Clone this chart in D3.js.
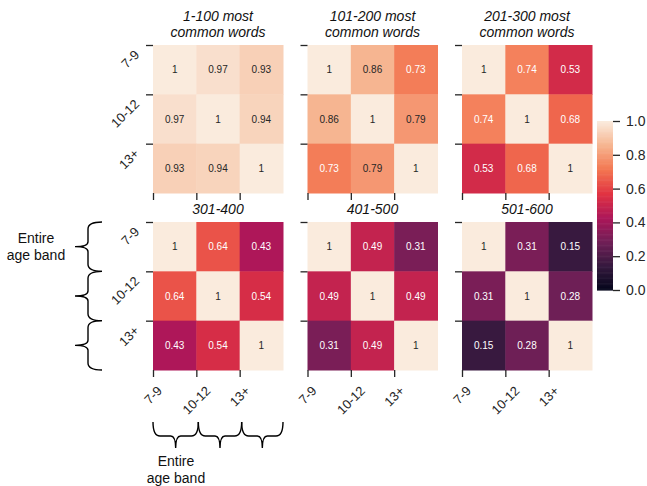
<!DOCTYPE html>
<html>
<head>
<meta charset="utf-8">
<script src="https://cdn.jsdelivr.net/npm/d3@7"></script>
<style>
  html, body { margin: 0; padding: 0; background: #fff; }
  svg { display: block; font-family: "Liberation Sans", Arial, sans-serif; }
</style>
</head>
<body>
<svg id="chart" width="647" height="486"></svg>
<script>
// Age bands shown on both axes of every matrix
const ageBands = ["7-9", "10-12", "13+"];

// Panel titles (word-frequency bands)
const panelTitles = [
  ["1-100 most", "common words"],
  ["101-200 most", "common words"],
  ["201-300 most", "common words"],
  ["301-400"],
  ["401-500"],
  ["501-600"]
];

// Correlation matrices, one per word band (rows/cols follow ageBands)
const words1to100   = [[1, 0.97, 0.93], [0.97, 1, 0.94], [0.93, 0.94, 1]];
const words101to200 = [[1, 0.86, 0.73], [0.86, 1, 0.79], [0.73, 0.79, 1]];
const words201to300 = [[1, 0.74, 0.53], [0.74, 1, 0.68], [0.53, 0.68, 1]];
const words301to400 = [[1, 0.64, 0.43], [0.64, 1, 0.54], [0.43, 0.54, 1]];
const words401to500 = [[1, 0.49, 0.31], [0.49, 1, 0.49], [0.31, 0.49, 1]];
const words501to600 = [[1, 0.31, 0.15], [0.31, 1, 0.28], [0.15, 0.28, 1]];
const matrices = [words1to100, words101to200, words201to300,
                  words301to400, words401to500, words501to600];

// Colour bar ticks
const colorbarTicks = [0, 0.2, 0.4, 0.6, 0.8, 1.0];

// "rocket"-style sequential palette
const rocketStops = ["#03051a", "#35193e", "#701f57", "#ad1759",
                     "#e13342", "#f37651", "#f6b48f", "#faebdd"];
const color = d3.scaleLinear()
  .domain(rocketStops.map((_, i) => i / (rocketStops.length - 1)))
  .range(rocketStops)
  .interpolate(d3.interpolateRgb)
  .clamp(true);

function luminance(c) {
  const rgb = d3.rgb(c);
  const lin = v => { v /= 255; return v <= 0.03928 ? v / 12.92 : Math.pow((v + 0.055) / 1.055, 2.4); };
  return 0.2126 * lin(rgb.r) + 0.7152 * lin(rgb.g) + 0.0722 * lin(rgb.b);
}

const svg = d3.select("#chart");
const ink = "#262626";

// Layout
const panelW = 130, panelH = 148;
const colLefts = [153, 307.5, 462];
const rowTops = [45, 222];

matrices.forEach((m, p) => {
  const row = Math.floor(p / 3), col = p % 3;
  const left = colLefts[col], top = rowTops[row];
  const x = d3.scaleBand().domain(ageBands).range([left, left + panelW]);
  const y = d3.scaleBand().domain(ageBands).range([top, top + panelH]);
  const xi = d3.scaleLinear().domain([0, 3]).range([left, left + panelW]);
  const yi = d3.scaleLinear().domain([0, 3]).range([top, top + panelH]);

  const g = svg.append("g");
  const cells = [];
  m.forEach((r, i) => r.forEach((v, j) => cells.push({ row: ageBands[i], col: ageBands[j], v })));

  g.selectAll("rect").data(cells).enter().append("rect")
    .attr("x", d => x(d.col))
    .attr("y", d => y(d.row))
    .attr("width", x.bandwidth() + 0.5)
    .attr("height", y.bandwidth() + 0.5)
    .attr("fill", d => color(d.v));

  g.selectAll("text.val").data(cells).enter().append("text")
    .attr("class", "val")
    .attr("x", d => x(d.col) + x.bandwidth() / 2)
    .attr("y", d => y(d.row) + y.bandwidth() / 2)
    .attr("text-anchor", "middle")
    .attr("dominant-baseline", "central")
    .attr("font-size", 10)
    .attr("fill", d => luminance(color(d.v)) > 0.408 ? ink : "#ffffff")
    .text(d => d3.format("")(d.v));

  // Title
  const lines = panelTitles[p];
  lines.forEach((t, k) => {
    g.append("text")
      .attr("x", left + panelW / 2)
      .attr("y", top - 8 - (lines.length - 1 - k) * 16)
      .attr("text-anchor", "middle")
      .attr("font-size", 14)
      .attr("font-style", "italic")
      .attr("fill", "#111")
      .text(t);
  });

  // Left axis: ticks at the top edge of each row
  const yAxis = g.append("g")
    .attr("transform", `translate(${left},0)`)
    .call(d3.axisLeft(yi).tickValues([0, 1, 2]).tickSize(7).tickFormat(i => ageBands[i]));
  yAxis.select(".domain").remove();
  yAxis.selectAll("line").attr("stroke", ink).attr("stroke-width", 1.3);
  yAxis.selectAll("text").remove();
  if (col === 0) {
    [0, 1, 2].forEach(i => {
      const a = 13 * 0.72;
      svg.append("text")
        .attr("transform", `translate(${left - 13},${yi(i) + 4 + 0.707 * a}) rotate(-45)`)
        .attr("text-anchor", "end")
        .attr("font-size", 13)
        .attr("fill", ink)
        .text(ageBands[i]);
    });
  }

  // Bottom axis: ticks at the left edge of each column
  const xAxis = g.append("g")
    .attr("transform", `translate(0,${top + panelH})`)
    .call(d3.axisBottom(xi).tickValues([0, 1, 2]).tickSize(7).tickFormat(i => ageBands[i]));
  xAxis.select(".domain").remove();
  xAxis.selectAll("line").attr("stroke", ink).attr("stroke-width", 1.3);
  xAxis.selectAll("text").remove();
  if (row === 1) {
    [0, 1, 2].forEach(i => {
      const a = 13 * 0.72;
      const t = svg.append("text")
        .attr("text-anchor", "middle")
        .attr("font-size", 13)
        .attr("fill", ink)
        .text(ageBands[i]);
      const L = t.node().getComputedTextLength();
      t.attr("transform",
        `translate(${xi(i) + 0.354 * a},${top + panelH + 15 + 0.707 * (L / 2 + a)}) rotate(-45)`);
    });
  }

  // Braces grouping the age bands of the 301-400 panel
  if (p === 3) {
    const brace = svg.append("g").attr("fill", "none").attr("stroke", "#000").attr("stroke-width", 1.4);
    [0, 1, 2].forEach(i => {
      const y0 = yi(i), y1 = yi(i + 1), ym = (y0 + y1) / 2;
      const xv = 88, xt = 75, xe = 102;
      brace.append("path").attr("d",
        `M${xe},${y0} Q${xv},${y0} ${xv},${y0 + 7} L${xv},${ym - 5} Q${xv},${ym} ${xt},${ym}` +
        ` Q${xv},${ym} ${xv},${ym + 5} L${xv},${y1 - 7} Q${xv},${y1} ${xe},${y1}`);
    });
    const yb = 436, ye = 422, yt = 448;
    [0, 1, 2].forEach(i => {
      const x0 = xi(i) + (i > 0 ? 2 : 0), x1 = xi(i + 1) + (i < 2 ? 2 : 0), xm = (x0 + x1) / 2;
      brace.append("path").attr("d",
        `M${x0},${ye} Q${x0},${yb} ${x0 + 7},${yb} L${xm - 5},${yb} Q${xm},${yb} ${xm},${yt}` +
        ` Q${xm},${yb} ${xm + 5},${yb} L${x1 - 7},${yb} Q${x1},${yb} ${x1},${ye}`);
    });
    const label = (cx, by) => {
      ["Entire", "age band"].forEach((t, k) => {
        svg.append("text")
          .attr("x", cx).attr("y", by + k * 17)
          .attr("text-anchor", "middle")
          .attr("font-size", 14)
          .attr("fill", "#111")
          .text(t);
      });
    };
    label(36, 243);
    label(176, 466);
  }
});

// Colour bar
const cbX = 597, cbW = 16, cbTop = 121, cbBottom = 290;
const cbScale = d3.scaleLinear().domain([0, 1]).range([cbBottom, cbTop]);
const steps = d3.range(0, 200).map(i => i / 200);
svg.append("g").selectAll("rect").data(steps).enter().append("rect")
  .attr("x", cbX)
  .attr("y", d => cbScale(d + 1 / 200))
  .attr("width", cbW)
  .attr("height", cbScale(0) - cbScale(1 / 200) + 0.6)
  .attr("fill", d => color(d + 0.5 / 200));
const cbAxis = svg.append("g")
  .attr("transform", `translate(${cbX + cbW},0)`)
  .call(d3.axisRight(cbScale).tickValues(colorbarTicks).tickSize(7).tickPadding(6).tickFormat(d3.format(".1f")));
cbAxis.select(".domain").remove();
cbAxis.selectAll("line").attr("stroke", ink).attr("stroke-width", 1.3);
cbAxis.selectAll("text").attr("font-size", 14).attr("fill", ink)
  .attr("font-family", "'Liberation Sans', Arial, sans-serif");
</script>
</body>
</html>
